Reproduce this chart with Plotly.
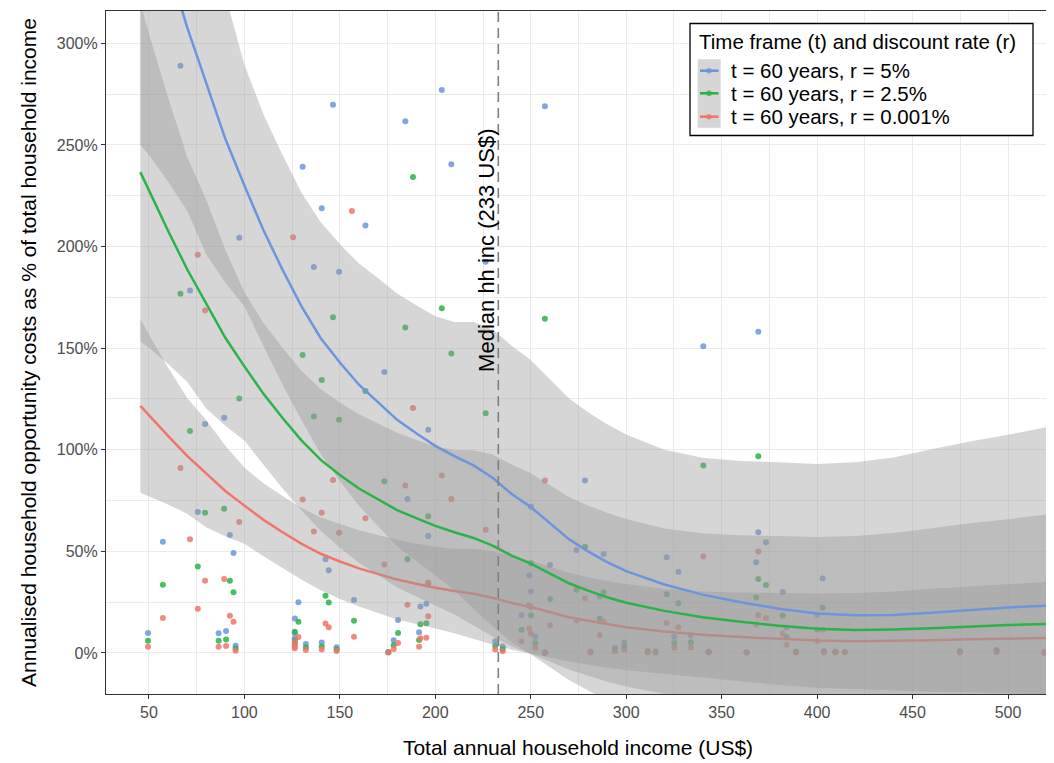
import plotly.graph_objects as go

# ---------------- data ----------------
hh_income = [49.5, 57.3, 66.5, 71.5, 75.6, 75.6, 79.4, 79.4, 86.5, 89.4, 90.4, 92.4, 94.3, 95.4, 97.3,
             125.5, 126.4, 126.4, 126.4, 128.3, 130.5, 132.2, 136.4, 140.5, 140.5, 142.5, 144.2, 146.4,
             148.3, 149.6, 156.3, 157.4, 163.4, 173.3, 175.4, 178.2, 180.5, 184.3, 185.4, 188.3, 191.5,
             192.2, 195.3, 196.3, 196.3, 203.4, 208.4, 226.4, 231.4, 235.3, 245.2, 249.2, 250.1, 250.1,
             252.4, 257.4, 257.4, 260.1, 274.0, 278.4, 281.2, 286.1, 288.2, 294.1, 299.0, 311.2, 315.4,
             321.2, 325.2, 327.3, 333.9, 340.4, 343.2, 363.1, 368.1, 369.2, 369.2, 373.2, 382.0, 384.0,
             388.9, 400.1, 402.9, 403.5, 409.6, 414.5, 474.8, 494.0, 519.0, 521.7]

cost_r5 = [9.8, 54.7, 288.9, 178.4, 69.4, 622, 112.7, 535, 9.7, 115.8, 10.8, 58.0, 49.2, 3.6, 204.3,
           650, 17.0, 9.8, 7.2, 25.0, 239.2, 4.4, 189.9, 218.8, 5.2, 46.1, 40.7, 269.8,
           2.8, 187.6, 690, 26.0, 210.4, 138.2, 0.5, 6.2, 16.2, 261.6, 75.7, 382, 10.2,
           22.9, 24.2, 109.8, 57.5, 277.0, 240.5, 192.5, 5.7, 3.2, 18.5, 38.1, 71.9, 30.3,
           8.0, 269.0, 0.2, 43.3, 50.7, 84.9, 0.7, 27.6, 48.7, 2.6, 5.1, 1.0, 0.7,
           47.1, 8.0, 39.9, 8.7, 150.9, 0.7, 0.3, 44.6, 158.1, 59.4, 54.5, 30.0, 12.5,
           0.7, 18.8, 36.6, 1.0, 0.7, 0.5, 1.0, 1.5, 0.3, 1.6]

cost_r25 = [6.0, 33.5, 176.8, 109.2, 42.5, 381, 69.0, 328, 6.0, 70.9, 6.6, 35.5, 29.9, 2.2, 125.2,
            398, 10.4, 6.0, 4.4, 15.4, 146.6, 2.7, 116.3, 134.3, 3.2, 28.1, 24.8, 165.2,
            1.7, 114.7, 423, 15.8, 128.9, 84.5, 0.3, 3.8, 9.8, 160.1, 46.1, 234.2, 6.4,
            14.1, 14.6, 67.3, 34.3, 169.6, 147.4, 118.0, 3.4, 1.8, 11.4, 23.4, 44.1, 18.6,
            4.9, 164.5, 0.1, 26.5, 31.1, 52.2, 0.4, 16.9, 29.9, 1.6, 3.1, 0.6, 0.4,
            28.9, 4.9, 24.5, 5.3, 92.3, 0.4, 0.2, 27.3, 96.8, 36.4, 33.4, 18.4, 7.7,
            0.4, 11.5, 22.3, 0.6, 0.4, 0.3, 0.6, 0.9, 0.2, 1.0]

cost_r0001 = [3.0, 17.2, 91.0, 56.0, 21.7, 195.9, 35.5, 168.5, 3.0, 36.4, 3.4, 18.3, 15.4, 1.1, 64.4,
              204.6, 5.4, 3.1, 2.3, 7.8, 75.5, 1.4, 59.8, 69.0, 1.7, 14.5, 12.7, 85.1,
              0.9, 59.2, 217.5, 8.0, 66.3, 43.5, 0.2, 2.0, 4.9, 82.4, 23.7, 120.6, 3.1,
              7.2, 7.5, 34.6, 18.0, 87.3, 75.8, 60.6, 1.7, 0.8, 5.8, 12.0, 22.6, 9.5,
              2.5, 84.9, 0.1, 13.6, 16.0, 26.9, 0.2, 8.7, 15.3, 0.8, 1.6, 0.3, 0.2,
              14.8, 2.5, 12.6, 2.7, 47.5, 0.2, 0.1, 14.0, 49.9, 18.7, 17.2, 9.5, 4.0,
              0.2, 5.9, 11.4, 0.3, 0.2, 0.2, 0.3, 0.5, 0.1, 0.5]

# smoothed (loess) curves and their confidence bands
smooth_x = [45.5, 50, 60, 70, 80, 90, 100, 110, 120, 130, 140, 150, 160, 170, 180, 190, 200, 210,
            220, 230, 240, 250, 260, 270, 280, 290, 300, 320, 340, 360, 380, 400, 420, 440, 460,
            480, 500, 525]

fit_r5 = [386, 371, 339, 308, 280, 253, 230, 208, 188.5, 170.4, 154.9, 142.9, 132, 123.4, 114.7,
          108.1, 101.9, 96.9, 92.3, 86.2, 78.2, 71.8, 63.9, 56, 50, 44.7, 40.3, 33.7, 28.7, 24.9,
          21.8, 19.4, 18.5, 18.7, 19.8, 21.2, 22.4, 23.5]
lo_r5 = [250, 245, 232, 217.6, 196.2, 182.3, 170.5, 151, 132, 114.4, 97.9, 84.6, 72.4, 62.4, 52.5,
         45.1, 38.1, 30.9, 21.8, 13.2, 5.2, -0.6, -6.9, -13.3, -18.5, -23.1, -26.9, -32.6, -38.7,
         -44.6, -50.2, -54.2, -56.8, -58.8, -60.6, -61.6, -62.6, -65]
hi_r5 = [522, 497, 446, 398.4, 363.8, 323.7, 289.5, 265, 245, 226.4, 211.9, 201.2, 191.6, 184.4,
         176.9, 171.1, 165.7, 162.9, 162.8, 159.2, 151.2, 144.2, 134.7, 125.3, 118.5, 112.5, 107.5,
         100.0, 96.1, 94.4, 93.8, 93.0, 93.8, 96.2, 100.2, 104.0, 107.4, 112]

fit_r25 = [236.6, 227.4, 207.8, 188.8, 171.6, 155.1, 141.0, 127.5, 115.6, 104.5, 95.0, 87.6, 80.9,
           75.6, 70.3, 66.3, 62.5, 59.4, 56.6, 52.8, 47.9, 44.0, 39.2, 34.3, 30.7, 27.4, 24.7, 20.7,
           17.6, 15.3, 13.4, 11.9, 11.3, 11.5, 12.1, 13.0, 13.7, 14.4]
lo_r25 = [153.3, 150.2, 142.2, 133.4, 120.3, 111.8, 104.5, 92.6, 80.9, 70.1, 60.0, 51.9, 44.4, 38.3,
          32.2, 27.6, 23.4, 18.9, 13.4, 8.1, 3.2, -0.4, -4.2, -8.2, -11.3, -14.2, -16.5, -20.0,
          -23.7, -27.3, -30.8, -33.2, -34.8, -36.0, -37.1, -37.8, -38.4, -39.8]
hi_r25 = [320.0, 304.7, 273.4, 244.2, 223.0, 198.4, 177.5, 162.4, 150.2, 138.8, 129.9, 123.3, 117.5,
          113.0, 108.4, 104.9, 101.6, 99.9, 99.8, 97.6, 92.7, 88.4, 82.6, 76.8, 72.6, 69.0, 65.9,
          61.3, 58.9, 57.9, 57.5, 57.0, 57.5, 59.0, 61.4, 63.8, 65.8, 68.7]

fit_r0001 = [121.6, 116.9, 106.8, 97.0, 88.2, 79.7, 72.5, 65.5, 59.4, 53.7, 48.8, 45.0, 41.6, 38.9,
             36.1, 34.1, 32.1, 30.5, 29.1, 27.2, 24.6, 22.6, 20.1, 17.6, 15.8, 14.1, 12.7, 10.6, 9.0,
             7.8, 6.9, 6.1, 5.8, 5.9, 6.2, 6.7, 7.1, 7.4]
lo_r0001 = [78.8, 77.2, 73.1, 68.5, 61.8, 57.4, 53.7, 47.6, 41.6, 36.0, 30.8, 26.6, 22.8, 19.7, 16.5,
            14.2, 12.0, 9.7, 6.9, 4.2, 1.6, -0.2, -2.2, -4.2, -5.8, -7.3, -8.5, -10.3, -12.2, -14.0,
            -15.8, -17.1, -17.9, -18.5, -19.1, -19.4, -19.7, -20.5]
hi_r0001 = [164.4, 156.6, 140.5, 125.5, 114.6, 102.0, 91.2, 83.5, 77.2, 71.3, 66.7, 63.4, 60.4, 58.1,
            55.7, 53.9, 52.2, 51.3, 51.3, 50.1, 47.6, 45.4, 42.4, 39.5, 37.3, 35.4, 33.9, 31.5, 30.3,
            29.7, 29.5, 29.3, 29.5, 30.3, 31.6, 32.8, 33.8, 35.3]

median_income = 233
x_ticks = [50, 100, 150, 200, 250, 300, 350, 400, 450, 500]
y_ticks = [0, 50, 100, 150, 200, 250, 300]
y_tick_labels = ["0%", "50%", "100%", "150%", "200%", "250%", "300%"]

series_names = ["t = 60 years, r = 5%", "t = 60 years, r = 2.5%", "t = 60 years, r = 0.001%"]

# ---------------- styling ----------------
BLUE = "#6C95DB"
GREEN = "#2BB34A"
RED = "#EF766C"
RIBBON = "rgba(153,153,153,0.4)"
FONT = "Liberation Sans, Arial, Helvetica, sans-serif"

series = [
    (series_names[0], cost_r5, fit_r5, lo_r5, hi_r5, BLUE),
    (series_names[1], cost_r25, fit_r25, lo_r25, hi_r25, GREEN),
    (series_names[2], cost_r0001, fit_r0001, lo_r0001, hi_r0001, RED),
]

fig = go.Figure()

# points first (ribbons are drawn over them, as in the original)
for name, pts, fit, lo, hi, col in series:
    fig.add_trace(go.Scatter(
        x=hh_income, y=pts, mode="markers", name=name, showlegend=False,
        marker=dict(color=col, size=6, opacity=0.85, line=dict(width=0)),
        hoverinfo="skip"))


def ribbon(lo, hi):
    return go.Scatter(
        x=smooth_x + smooth_x[::-1], y=hi + lo[::-1], mode="lines", fill="toself",
        fillcolor=RIBBON, line=dict(width=0), showlegend=False, hoverinfo="skip")


def curve(fit, col, name):
    return go.Scatter(x=smooth_x, y=fit, mode="lines", name=name, showlegend=False,
                      line=dict(color=col, width=2.5), hoverinfo="skip")


# red group, then green and blue groups
fig.add_trace(ribbon(lo_r0001, hi_r0001))
fig.add_trace(curve(fit_r0001, RED, series_names[2]))
fig.add_trace(ribbon(lo_r25, hi_r25))
fig.add_trace(ribbon(lo_r5, hi_r5))
fig.add_trace(curve(fit_r25, GREEN, series_names[1]))
fig.add_trace(curve(fit_r5, BLUE, series_names[0]))

# ---------------- layout ----------------
# the page body has an 8 px margin, so the figure is made 8 px smaller
OFF = 8
W, H = 1054 - OFF, 763 - OFF
ML, MR, MT, MB = 106 - OFF, 4, 11 - OFF, 69
PW, PH = W - ML - MR, H - MT - MB
PLOT_LEFT, PLOT_BOTTOM = OFF + ML, OFF + H - MB   # in page pixels


def px_x(p):
    return (p - PLOT_LEFT) / PW


def px_y(p):
    return (PLOT_BOTTOM - p) / PH


shapes = []
annotations = []

# median line
shapes.append(dict(type="line", xref="x", yref="y domain", x0=median_income, x1=median_income,
                   y0=0, y1=1, line=dict(color="#7F7F7F", width=1.6, dash="10px,6px"), layer="above"))
annotations.append(dict(x=median_income, y=198, xref="x", yref="y", xshift=-12,
                        text="Median hh inc (233 US$)", textangle=-90, showarrow=False,
                        font=dict(size=22, color="black", family=FONT)))

# manual legend (ggplot style)
shapes.append(dict(type="rect", xref="paper", yref="paper",
                   x0=px_x(690), x1=px_x(1033), y0=px_y(135.5), y1=px_y(23.5),
                   fillcolor="white", line=dict(color="black", width=1.3), layer="above"))
shapes.append(dict(type="rect", xref="paper", yref="paper",
                   x0=px_x(697.7), x1=px_x(720.7), y0=px_y(127.7), y1=px_y(59.3),
                   fillcolor="#D6D6D6", line=dict(width=0), layer="above"))
annotations.append(dict(x=px_x(697), y=px_y(41.5), xref="paper", yref="paper",
                        xanchor="left", yanchor="middle", showarrow=False,
                        text="Time frame (t) and discount rate (r)",
                        font=dict(size=20.5, color="black", family=FONT)))
for (name, pts, fit, lo, hi, col), yc in zip(series, [70.7, 93.3, 116.7]):
    shapes.append(dict(type="line", xref="paper", yref="paper",
                       x0=px_x(700), x1=px_x(718.5), y0=px_y(yc), y1=px_y(yc),
                       line=dict(color=col, width=2.6), layer="above"))
    shapes.append(dict(type="circle", xref="paper", yref="paper",
                       x0=px_x(706.2), x1=px_x(711.8), y0=px_y(yc + 2.8), y1=px_y(yc - 2.8),
                       fillcolor=col, opacity=0.75, line=dict(width=0), layer="above"))
    annotations.append(dict(x=px_x(729), y=px_y(yc), xref="paper", yref="paper",
                            xanchor="left", yanchor="middle", showarrow=False, text=name,
                            font=dict(size=20.5, color="black", family=FONT)))

axis_common = dict(
    showline=True, linecolor="#333333", linewidth=1.2, mirror=True,
    ticks="outside", ticklen=4, tickwidth=1.1, tickcolor="#333333",
    showgrid=True, gridcolor="#EBEBEB", gridwidth=1.3, zeroline=False,
    automargin=False,
    tickfont=dict(size=16, color="#4D4D4D", family=FONT),
)

fig.update_layout(
    width=W, height=H,
    margin=dict(l=ML, r=MR, t=MT, b=MB, autoexpand=False),
    plot_bgcolor="white", paper_bgcolor="white",
    showlegend=False,
    font=dict(family=FONT, color="black"),
    xaxis=dict(range=[27.5, 522.0], tickvals=x_ticks,
               minor=dict(dtick=25, tick0=0, showgrid=True, gridcolor="#EBEBEB", gridwidth=0.7, ticks=""),
               title=dict(text="Total annual household income (US$)", standoff=20,
                          font=dict(size=21, color="black", family=FONT)),
               **axis_common),
    yaxis=dict(range=[-20.2, 315.9], tickvals=y_ticks, ticktext=y_tick_labels,
               minor=dict(dtick=25, tick0=0, showgrid=True, gridcolor="#EBEBEB", gridwidth=0.7, ticks=""),
               title=dict(text="Annualised household opportunity costs as % of total household income",
                          standoff=14, font=dict(size=21, color="black", family=FONT)),
               **axis_common),
    shapes=shapes,
    annotations=annotations,
)

fig.write_html("out.html")
